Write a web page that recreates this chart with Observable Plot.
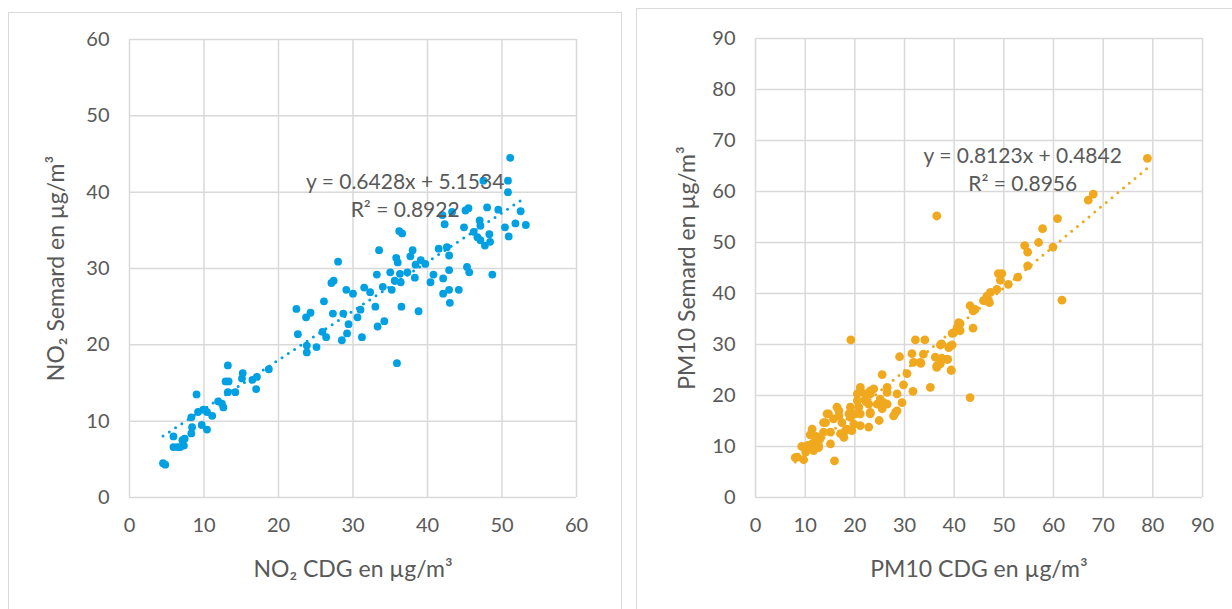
<!DOCTYPE html>
<html><head><meta charset="utf-8">
<script src="https://cdn.jsdelivr.net/npm/d3@7"></script>
<script src="https://cdn.jsdelivr.net/npm/@observablehq/plot@0.6"></script>
<style>
body{margin:0;background:#fff;width:1232px;height:609px;overflow:hidden;position:relative;font-family:Lato,sans-serif;}
.panel{position:absolute;border:1px solid #d9d9d9;box-sizing:border-box;background:#fff;}
.panel svg{position:absolute;left:0;top:0;}
#p1{left:8px;top:12px;width:614px;height:620px;}
#p2{left:636px;top:8px;width:620px;height:620px;}
</style></head><body>
<div id="p1" class="panel"></div><div id="p2" class="panel"></div>
<script>
// ---- NO2 panel data (x = CDG, y = Semard), µg/m³
const no2X = [4.5,4.8,5.9,6.4,6.8,7.3,7.1,7.4,5.9,8.3,8.4,9.7,10.4,8.3,9.2,9.9,10.4,11.1,9.0,11.9,12.4,12.6,13.2,14.2,12.9,13.3,13.2,15.2,15.1,16.5,17.1,17.0,18.7,22.6,
35.9,23.8,23.8,25.1,25.9,26.4,28.5,29.2,29.4,31.2,33.3,34.2,22.4,23.7,24.3,27.3,28.7,30.6,31.0,33.0,26.1,29.1,30.0,31.5,32.3,34.0,35.2,36.5,38.8,27.1,27.4,28.0,33.2,35.0,35.6,36.4,36.3,37.3,38.3,33.5,35.8,36.0,37.7,38.0,38.4,39.1,39.7,36.2,36.6,40.8,40.4,42.1,42.1,41.5,42.6,42.9,
51.1,47.5,50.8,50.8,45.1,45.5,48.0,49.5,52.5,43.3,42.0,42.3,47.0,47.1,44.9,50.4,51.8,53.2,50.9,46.2,46.7,47.1,48.3,48.4,47.7,42.9,45.3,45.6,48.7,42.9,44.2,43.0];
const no2Y = [4.5,4.3,6.6,6.6,6.6,6.8,7.5,7.7,8.0,8.4,9.2,9.5,8.9,10.5,11.2,11.5,11.2,10.7,13.5,12.6,12.3,11.8,13.8,13.8,15.2,15.2,17.3,16.3,15.6,15.4,15.8,14.2,16.8,21.4,
17.6,19.0,19.9,19.7,21.7,21.0,20.6,21.5,22.7,21.0,22.4,23.1,24.7,23.6,24.2,24.1,24.1,23.6,24.6,25.0,25.7,27.2,26.7,27.5,26.9,27.6,27.2,25.0,24.4,28.1,28.4,30.9,29.2,29.5,28.4,28.2,29.3,29.5,28.8,32.4,31.4,30.8,31.6,32.4,30.5,31.1,30.6,34.9,34.6,29.2,28.2,28.7,26.7,32.6,32.8,31.7,
44.5,41.5,41.5,40.0,37.6,37.9,38.0,37.7,37.5,37.4,37.0,35.8,36.3,35.6,35.4,35.4,35.9,35.7,34.2,34.8,34.1,33.7,34.5,33.5,33.0,29.8,30.2,29.5,29.2,27.2,27.2,25.5];
const no2Slope = 0.6428, no2Intercept = 5.1534;
const no2Eq = "y = 0.6428x + 5.1534", no2R2 = "R² = 0.8922";

// ---- PM10 panel data
const pmX = [78.9,68.0,67.0,36.5,60.8,57.8,54.2,54.8,57.0,59.9,54.8,52.8,48.9,49.6,49.3,50.9,48.6,47.3,46.6,45.9,47.1,61.7,43.2,43.8,41.2,40.6,43.8,
43.2,32.2,34.1,29.0,31.5,31.8,33.3,33.8,37.2,38.9,39.6,36.2,37.5,38.7,36.5,37.2,39.4,35.2,25.5,30.5,29.8,31.7,39.9,41.2,40.9,19.2,
8.4,9.7,15.9,15.1,10.7,11.7,12.7,10.1,11.4,14.1,14.4,16.4,16.8,17.1,15.1,18.4,19.4,19.8,19.1,22.8,24.9,23.1,21.1,20.5,22.1,21.1,23.1,22.8,25.5,25.8,26.5,27.8,28.5,29.5,33.2,37.5,39.2,39.4,38.6,36.5,39.6,
8.0,10.1,11.4,12.7,11.7,13.7,13.7,14.7,15.7,17.4,18.1,20.1,20.8,19.1,21.1,23.1,23.1,25.1,24.5,26.5,28.2,28.5,26.5,22.1,22.1,18.8,16.8,17.8,21.1,23.8,20.5,12.0,13.0,10.5,12.2,9.3,11.0,44.2];
const pmY = [66.5,59.5,58.3,55.2,54.7,52.7,49.4,48.1,50.0,49.1,45.4,43.2,43.9,43.9,42.6,41.8,40.8,40.2,39.5,38.6,38.2,38.7,37.6,36.6,34.1,33.3,33.2,
19.6,30.9,30.9,27.6,28.2,26.5,26.3,28.1,29.9,29.4,29.9,27.5,27.3,27.1,25.5,26.2,25.0,21.6,24.1,24.3,22.1,20.8,32.3,32.7,34.3,30.9,
7.9,7.4,7.2,10.5,9.8,9.5,9.8,8.9,13.4,14.7,16.4,17.7,16.0,12.5,12.8,13.4,13.1,14.4,15.7,13.8,15.1,16.4,16.4,19.0,19.3,20.9,20.9,18.3,17.4,18.6,20.6,16.0,17.0,18.6,26.5,30.1,29.7,24.9,27.1,25.8,32.2,
7.8,9.5,10.5,10.2,9.2,12.8,14.7,16.4,15.4,14.7,13.1,16.4,17.7,17.7,21.6,20.3,16.7,19.3,18.3,18.3,16.7,20.3,21.6,19.0,20.3,16.4,17.0,11.8,14.1,21.3,20.3,11.0,11.5,10.2,12.0,10.0,12.3,36.9];
const pmSlope = 0.8123, pmIntercept = 0.4842;
const pmEq = "y = 0.8123x + 0.4842", pmR2 = "R² = 0.8956";

const no2Ticks = [0,10,20,30,40,50,60];
const pmTicks = [0,10,20,30,40,50,60,70,80,90];

function chart(o) {
  const data = o.xs.map((x, i) => ({x, y: o.ys[i]}));
  const [x0, x1] = d3.extent(o.xs);
  const trend = [x0, x1].map(x => ({x, y: o.slope * x + o.intercept}));
  const grid = {stroke: "#d9d9d9", strokeOpacity: 1, strokeWidth: 1.5};
  return Plot.plot({
    width: o.width, height: o.height,
    marginLeft: o.ml, marginRight: o.mr, marginTop: o.mt, marginBottom: o.mb,
    style: {fontFamily: "Lato, sans-serif", fontSize: "20px", color: "#595959", background: "transparent"},
    x: {domain: o.domain, ticks: o.ticks},
    y: {domain: o.domain, ticks: o.ticks},
    marks: [
      Plot.gridX(o.ticks, grid),
      Plot.gridY(o.ticks, grid),
      Plot.line(trend, {x: "x", y: "y", stroke: o.color, strokeWidth: 3, strokeDasharray: "0 7.5", strokeLinecap: "round"}),
      Plot.dot(data, {x: "x", y: "y", r: o.r, fill: o.color, stroke: "none"}),
      Plot.text([o.eq], {x: o.eqX, y: o.eqY, text: d => d, fill: "#595959", fontSize: 21}),
      Plot.text([o.r2], {x: o.eqX, y: o.r2Y, text: d => d, fill: "#595959", fontSize: 21}),
      Plot.axisX(o.ticks, {tickSize: 0, tickPadding: 20, fontSize: 20, label: null}),
      Plot.axisY(o.ticks, {tickSize: 0, tickPadding: 20, fontSize: 20, label: null}),
      Plot.axisX({ticks: [], tickSize: 0, label: o.xLabel, labelAnchor: "center", labelArrow: "none", labelOffset: 79, fontSize: 23}),
      Plot.axisY({ticks: [], tickSize: 0, label: o.yLabel, labelAnchor: "center", labelArrow: "none", labelOffset: o.yOff, fontSize: 23})
    ]
  });
}

document.getElementById("p1").append(chart({
  xs: no2X, ys: no2Y, color: "#00A0E3", r: 3.9, domain: [0, 60], ticks: no2Ticks,
  slope: no2Slope, intercept: no2Intercept, eq: no2Eq, r2: no2R2, eqX: 37.0, eqY: 41.3, r2Y: 37.6,
  xLabel: "NO₂ CDG en µg/m³", yLabel: "NO₂ Semard en µg/m³", yOff: 82,
  width: 612, height: 596, ml: 120, mr: 45, mt: 26, mb: 112
}));
document.getElementById("p2").append(chart({
  xs: pmX, ys: pmY, color: "#F0A91E", r: 4.4, domain: [0, 90], ticks: pmTicks,
  slope: pmSlope, intercept: pmIntercept, eq: pmEq, r2: pmR2, eqX: 53.8, eqY: 66.9, r2Y: 61.4,
  xLabel: "PM10 CDG en µg/m³", yLabel: "PM10 Semard en µg/m³", yOff: 77,
  width: 595, height: 600, ml: 118, mr: 30, mt: 29, mb: 112
}));
</script>
</body></html>
